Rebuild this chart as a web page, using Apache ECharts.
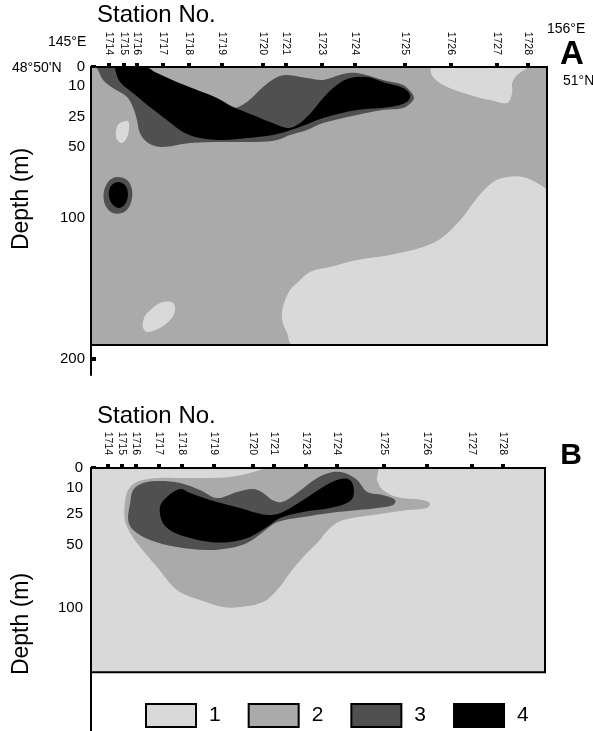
<!DOCTYPE html>
<html>
<head>
<meta charset="utf-8">
<script src="https://cdn.jsdelivr.net/npm/echarts@6/dist/echarts.min.js"></script>
<style>
  html, body { margin: 0; padding: 0; background: #fff; }
  #chart { width: 593px; height: 731px; }
</style>
</head>
<body>
<div id="chart"></div>
<script>
// ---- Section data: stations, depth ticks and class areas as [longitude °E, depth m] ----
const stationNo = ['1714','1715','1716','1717','1718','1719','1720','1721','1723','1724','1725','1726','1727','1728'];
const stationLonA = [145.43,145.80,146.11,146.74,147.36,148.16,149.15,149.70,150.57,151.37,152.57,153.68,154.79,155.54];
const stationLonB = [145.40,145.75,146.09,146.64,147.20,147.98,148.93,149.43,150.21,150.96,152.10,153.13,154.23,154.98];
const lonRange = [145, 156];
const depthTicksA = [0, 10, 25, 50, 100, 200];
const depthTicksB = [0, 10, 25, 50, 100];
const sectionBottomA = 190;
const sectionBottomB = 151;
const classNames = ['1', '2', '3', '4'];

// Panel A: background is class 2
const a1TopRight = [[153.23,0],[153.25,5.3],[153.59,10.5],[154.31,15.3],[154.63,16.8],[155.04,18.2],[155.16,13.4],[155.16,8.4],[155.28,4.2],[155.52,0]];
const a1BottomRight = [[149.87,190],[149.73,181.6],[149.61,172.3],[149.63,163.1],[149.80,151.1],[149.97,146.1],[150.28,138.3],[150.77,134.8],[151.42,129.8],[152.21,126.2],[153.01,120.6],[153.49,113.5],[153.97,99.3],[154.31,85.9],[154.70,74.6],[155.04,71.1],[155.42,71.1],[155.76,75.4],[156,81.7],[156,190]];
const a1SmallUpper = [[145.65,31.7],[145.75,29.2],[145.89,28.3],[145.92,33.3],[145.87,41.7],[145.75,46.7],[145.63,44.2],[145.60,37.5]];
const a1SmallLower = [[146.38,166.7],[146.66,160.3],[146.95,159.6],[147.03,163.8],[146.95,170.9],[146.66,178.0],[146.35,180.8],[146.25,177.3],[146.28,170.9]];
const a3Main = [[145.14,0],[146.35,0],[146.59,4.2],[147.07,8.4],[147.56,12.9],[148.04,17.7],[148.43,20.6],[148.76,17.7],[149.15,10.5],[149.49,5.3],[149.73,4.2],[150.21,5.8],[150.60,6.8],[151.08,3.7],[151.42,3.2],[152.04,6.8],[152.53,9.5],[152.74,13.4],[152.79,15.8],[152.74,17.7],[152.53,20.6],[152.04,21.6],[151.42,24.0],[150.60,30.0],[150.21,35.8],[149.80,40.0],[149.49,44.2],[149.00,45.8],[148.18,45.8],[147.39,46.7],[146.71,50],[146.38,46.7],[146.18,38.3],[146.11,27.5],[146.01,20.2],[145.87,15.3],[145.53,11.0],[145.29,6.8],[145.17,1.6]];
const a3Ring = [[145.63,71.1],[145.87,73.2],[145.99,80.3],[145.96,89.4],[145.80,95.8],[145.53,96.5],[145.34,90.8],[145.31,81.7],[145.43,73.9]];
const a4Main = [[145.60,0],[146.30,0],[146.59,3.2],[147.07,7.9],[147.56,11.9],[148.04,15.8],[148.43,20.2],[148.84,23.5],[149.32,29.2],[149.73,34.2],[149.97,31.7],[150.28,23.5],[150.60,15.8],[150.93,9.5],[151.25,5.8],[151.66,5.3],[152.04,7.9],[152.53,11.0],[152.70,14.4],[152.62,17.7],[152.21,20.2],[151.42,21.6],[150.60,25.8],[149.97,34.2],[149.39,40.0],[148.76,42.5],[148.18,44.2],[147.63,42.5],[147.22,37.5],[146.83,27.5],[146.42,20.2],[146.01,13.4],[145.70,7.9],[145.60,2.6]];
const a4Blob = [[145.65,74.6],[145.82,76.8],[145.89,82.4],[145.84,89.4],[145.68,93.0],[145.51,90.1],[145.43,83.8],[145.48,77.5]];

// Panel B: background is class 1
const b2Main = [[149.34,0],[151.93,0],[151.93,6.0],[152.07,11.2],[152.41,15.2],[153.04,16.9],[153.21,18.7],[153.14,21.5],[152.66,22.7],[151.83,25.8],[151.11,29.8],[150.79,36.3],[150.48,48.4],[150.14,59.5],[149.82,72.2],[149.51,85.7],[149.17,95.2],[148.61,99.2],[148.20,99.2],[147.64,93.7],[147.08,85.7],[146.60,67.5],[146.19,51.6],[145.95,40.3],[145.82,29.8],[145.82,18.7],[145.90,11.2],[146.11,7.0],[146.60,5.0],[147.23,5.0],[147.81,5.0],[148.37,4.5],[148.85,2.5]];
const b3Main = [[145.95,18.7],[146.02,11.2],[146.26,7.5],[146.67,6.5],[147.16,7.5],[147.64,11.2],[148.05,15.8],[148.54,12.3],[148.93,10.6],[149.17,12.9],[149.39,16.9],[149.63,18.1],[149.99,12.9],[150.48,5.0],[150.86,2.0],[151.15,2.5],[151.45,6.0],[151.69,12.3],[152.07,14.0],[152.37,16.9],[152.32,19.8],[151.93,21.5],[151.45,22.7],[150.79,24.4],[150.14,27.4],[149.51,31.5],[149.17,39.5],[148.78,48.4],[148.37,52.4],[147.81,54.0],[147.08,51.6],[146.43,46.0],[146.02,37.9],[145.90,29.8]];
const b4Main = [[146.67,21.0],[146.84,15.2],[147.16,10.6],[147.40,12.9],[148.05,18.1],[148.61,21.5],[149.02,24.4],[149.34,25.8],[149.65,23.8],[150.14,16.9],[150.62,9.5],[150.96,6.0],[151.23,5.5],[151.35,8.5],[151.35,15.2],[151.20,18.7],[150.79,21.5],[150.14,23.8],[149.58,28.2],[149.26,35.5],[148.85,43.5],[148.37,47.6],[147.88,47.6],[147.40,44.4],[146.99,39.5],[146.74,32.3]];

// ---- Stretched depth axis: piecewise-linear scale between depth knots ----
const depthScaleA = { depth: [0, 10, 25, 50, 100, 200], axis: [0, 19, 50, 80, 151, 292], max: 308 };
const depthScaleB = { depth: [0, 10, 25, 50, 100, 200], axis: [0, 20, 46, 77, 140, 266], max: 280 };

function interp(xs, ys, v) {
  let i = 0;
  while (i < xs.length - 2 && v > xs[i + 1]) i++;
  return ys[i] + (v - xs[i]) * (ys[i + 1] - ys[i]) / (xs[i + 1] - xs[i]);
}
const toAxis = (s, d) => interp(s.depth, s.axis, d);
const fromAxis = (s, v) => interp(s.axis, s.depth, v);

const classColor = { '1': '#d9d9d9', '2': '#aaaaaa', '3': '#505050', '4': '#000000' };
const FONT = "'Liberation Sans', Arial, Helvetica, sans-serif";

function nearestStation(list, v) {
  let best = 0;
  list.forEach((p, i) => { if (Math.abs(p - v) < Math.abs(list[best] - v)) best = i; });
  return stationNo[best];
}

// pixel rectangle of the section (surface to bottom, full longitude range)
function sectionRect(api, scale, bottom) {
  const p0 = api.coord([lonRange[0], toAxis(scale, 0)]);
  const p1 = api.coord([lonRange[1], toAxis(scale, bottom)]);
  return { x: p0[0], y: p0[1], width: p1[0] - p0[0], height: p1[1] - p0[1] };
}

function areaSeries(name, panel, scale, bottom, polys, z) {
  return {
    type: 'custom', name, xAxisIndex: panel, yAxisIndex: panel,
    coordinateSystem: 'cartesian2d', silent: true, z,
    itemStyle: { color: classColor[name] },
    data: polys.map(p => [p[0][0], toAxis(scale, p[0][1])]),
    renderItem: (params, api) => {
      const pts = polys[params.dataIndex].map(([lon, d]) => api.coord([lon, toAxis(scale, d)]));
      return {
        type: 'polygon',
        shape: { points: pts, smooth: 0.35 },
        style: { fill: classColor[name] },
        clipPath: { type: 'rect', shape: sectionRect(api, scale, bottom) }
      };
    }
  };
}

function sectionSeries(name, panel, scale, bottom, fillColor, z) {
  return {
    type: 'custom', name, xAxisIndex: panel, yAxisIndex: panel,
    coordinateSystem: 'cartesian2d', silent: true, z,
    itemStyle: { color: fillColor || '#000' },
    data: [[lonRange[0], 0]],
    renderItem: (params, api) => ({
      type: 'rect',
      shape: sectionRect(api, scale, bottom),
      style: fillColor ? { fill: fillColor } : { fill: 'none', stroke: '#000', lineWidth: 2 }
    })
  };
}

function xAxisFor(panel, lons, margin) {
  return {
    gridIndex: panel, type: 'value', position: 'top', min: lonRange[0], max: lonRange[1],
    axisLine: { onZero: false, lineStyle: { color: '#000', width: 2 } },
    axisTick: { show: true, customValues: lons, length: 4, lineStyle: { color: '#000', width: 4 } },
    axisLabel: { customValues: lons, rotate: 90, margin, fontSize: 10.5, color: '#000', fontFamily: FONT,
      formatter: v => nearestStation(lons, v) },
    splitLine: { show: false }
  };
}

function yAxisFor(panel, scale, ticks, margin) {
  const pos = ticks.map(d => toAxis(scale, d));
  return {
    gridIndex: panel, type: 'value', inverse: true, min: 0, max: scale.max,
    axisLine: { show: true, onZero: false, lineStyle: { color: '#000', width: 2 } },
    axisTick: { show: true, inside: true, customValues: pos, length: 5, lineStyle: { color: '#000', width: 4 } },
    axisLabel: { customValues: pos, margin, fontSize: 15, color: '#000', fontFamily: FONT,
      formatter: v => String(Math.round(fromAxis(scale, v))) },
    splitLine: { show: false }
  };
}

function label(text, x, y, size, extra) {
  return Object.assign({
    type: 'text', x, y, silent: true,
    style: Object.assign({ text, fontSize: size, fontFamily: FONT, fill: '#000', align: 'left', verticalAlign: 'middle' }, (extra || {}).style || {})
  }, extra ? { rotation: extra.rotation || 0 } : {});
}

const chart = echarts.init(document.getElementById('chart'), null, { renderer: 'canvas' });
chart.setOption({
  animation: false,
  backgroundColor: '#fff',
  textStyle: { fontFamily: FONT },
  grid: [
    { left: 91, top: 67, width: 456, height: 308, containLabel: false, outerBoundsMode: 'none' },
    { left: 91, top: 468, width: 454, height: 280, containLabel: false, outerBoundsMode: 'none' }
  ],
  xAxis: [xAxisFor(0, stationLonA, 12), xAxisFor(1, stationLonB, 13)],
  yAxis: [yAxisFor(0, depthScaleA, depthTicksA, 6), yAxisFor(1, depthScaleB, depthTicksB, 8)],
  legend: {
    left: 145, top: 703, padding: 0, orient: 'horizontal',
    icon: 'rect', itemWidth: 50, itemHeight: 23, itemGap: 27,
    itemStyle: { borderColor: '#000', borderWidth: 2 },
    textStyle: { fontSize: 21, color: '#000', fontFamily: FONT, padding: [0, 0, 0, 8] },
    selectedMode: false,
    data: classNames
  },
  series: [
    sectionSeries('2', 0, depthScaleA, sectionBottomA, classColor['2'], 1),
    areaSeries('1', 0, depthScaleA, sectionBottomA, [a1TopRight, a1BottomRight, a1SmallUpper, a1SmallLower], 2),
    areaSeries('3', 0, depthScaleA, sectionBottomA, [a3Main, a3Ring], 3),
    areaSeries('4', 0, depthScaleA, sectionBottomA, [a4Main, a4Blob], 4),
    sectionSeries('frameA', 0, depthScaleA, sectionBottomA, null, 5),

    sectionSeries('1', 1, depthScaleB, sectionBottomB, classColor['1'], 1),
    areaSeries('2', 1, depthScaleB, sectionBottomB, [b2Main], 2),
    areaSeries('3', 1, depthScaleB, sectionBottomB, [b3Main], 3),
    areaSeries('4', 1, depthScaleB, sectionBottomB, [b4Main], 4),
    sectionSeries('frameB', 1, depthScaleB, sectionBottomB, null, 5)
  ],
  graphic: [
    label('Station No.', 97, 15, 24),
    label('145°E', 48, 42, 14),
    label('48°50\'N', 12, 68, 14),
    label('156°E', 547, 29, 14),
    label('A', 572, 55, 33, { style: { fontWeight: 'bold', align: 'center' } }),
    label('51°N', 563, 81, 14),
    label('Depth (m)', 22, 199, 23, { rotation: Math.PI / 2, style: { align: 'center' } }),
    label('Station No.', 97, 416, 24),
    label('B', 571, 456, 30, { style: { fontWeight: 'bold', align: 'center' } }),
    label('Depth (m)', 22, 624, 23, { rotation: Math.PI / 2, style: { align: 'center' } })
  ]
});
</script>
</body>
</html>
